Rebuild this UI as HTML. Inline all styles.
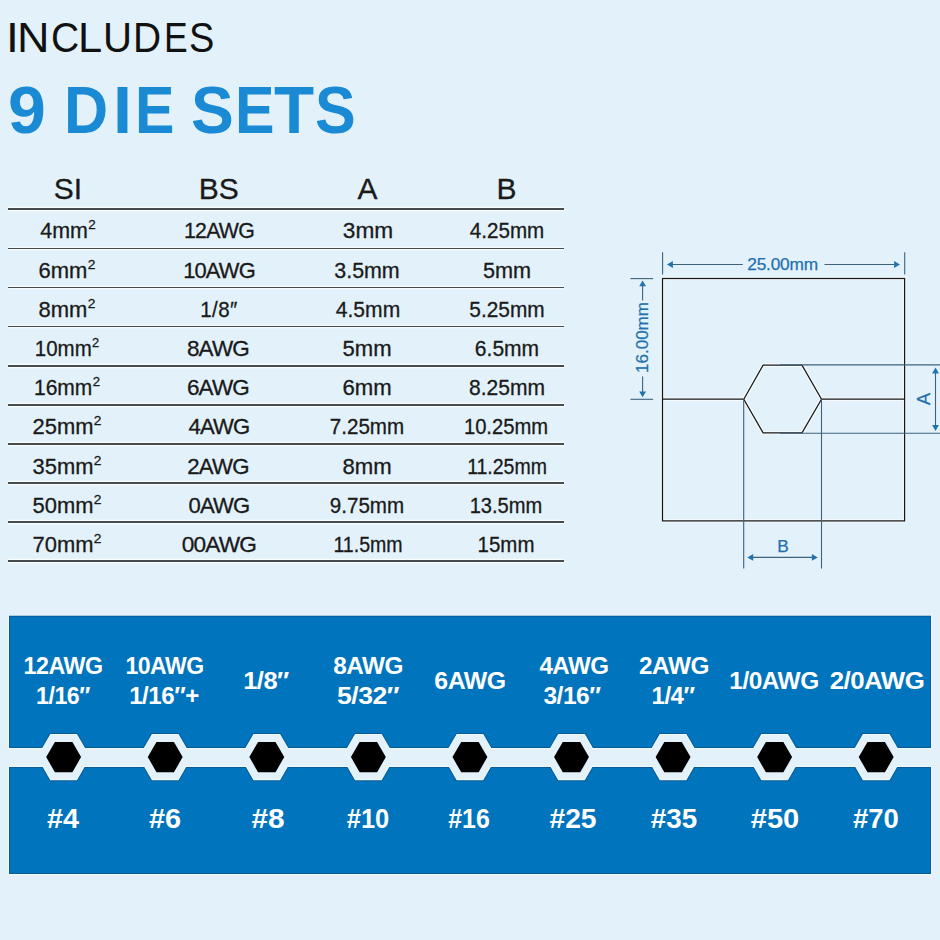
<!DOCTYPE html>
<html><head><meta charset="utf-8"><style>
html,body{margin:0;padding:0;}
body{width:940px;height:940px;position:relative;overflow:hidden;background:#E3F2FA;font-family:"Liberation Sans", sans-serif;}
</style></head><body>
<svg width="940" height="940" viewBox="0 0 940 940" style="position:absolute;left:0;top:0"><rect x="8" y="614.7" width="924" height="260.3" fill="#EDFBFF"/><rect x="9" y="615.7" width="922" height="258.3" fill="#0A5A96"/><rect x="10" y="616.7" width="920" height="256.3" fill="#0174BE"/><g stroke="#0A5A96" stroke-width="2" fill="none"><line x1="10" y1="748" x2="930" y2="748"/><line x1="10" y1="767" x2="930" y2="767"/><polygon points="37.05,757.10 50.35,734.06 76.95,734.06 90.25,757.10 76.95,780.14 50.35,780.14"/><polygon points="138.62,757.10 151.92,734.06 178.52,734.06 191.82,757.10 178.52,780.14 151.92,780.14"/><polygon points="240.19,757.10 253.49,734.06 280.09,734.06 293.39,757.10 280.09,780.14 253.49,780.14"/><polygon points="341.76,757.10 355.06,734.06 381.66,734.06 394.96,757.10 381.66,780.14 355.06,780.14"/><polygon points="443.33,757.10 456.63,734.06 483.23,734.06 496.53,757.10 483.23,780.14 456.63,780.14"/><polygon points="544.90,757.10 558.20,734.06 584.80,734.06 598.10,757.10 584.80,780.14 558.20,780.14"/><polygon points="646.47,757.10 659.77,734.06 686.37,734.06 699.67,757.10 686.37,780.14 659.77,780.14"/><polygon points="748.04,757.10 761.34,734.06 787.94,734.06 801.24,757.10 787.94,780.14 761.34,780.14"/><polygon points="849.61,757.10 862.91,734.06 889.51,734.06 902.81,757.10 889.51,780.14 862.91,780.14"/></g><g fill="#EDFBFF"><rect x="8" y="748" width="924" height="19"/><polygon points="37.05,757.10 50.35,734.06 76.95,734.06 90.25,757.10 76.95,780.14 50.35,780.14"/><polygon points="138.62,757.10 151.92,734.06 178.52,734.06 191.82,757.10 178.52,780.14 151.92,780.14"/><polygon points="240.19,757.10 253.49,734.06 280.09,734.06 293.39,757.10 280.09,780.14 253.49,780.14"/><polygon points="341.76,757.10 355.06,734.06 381.66,734.06 394.96,757.10 381.66,780.14 355.06,780.14"/><polygon points="443.33,757.10 456.63,734.06 483.23,734.06 496.53,757.10 483.23,780.14 456.63,780.14"/><polygon points="544.90,757.10 558.20,734.06 584.80,734.06 598.10,757.10 584.80,780.14 558.20,780.14"/><polygon points="646.47,757.10 659.77,734.06 686.37,734.06 699.67,757.10 686.37,780.14 659.77,780.14"/><polygon points="748.04,757.10 761.34,734.06 787.94,734.06 801.24,757.10 787.94,780.14 761.34,780.14"/><polygon points="849.61,757.10 862.91,734.06 889.51,734.06 902.81,757.10 889.51,780.14 862.91,780.14"/></g><g fill="#E3F2FA"><rect x="0" y="749" width="940" height="17"/><polygon points="38.20,757.10 50.92,735.06 76.38,735.06 89.10,757.10 76.38,779.14 50.92,779.14"/><polygon points="139.77,757.10 152.50,735.06 177.94,735.06 190.67,757.10 177.94,779.14 152.50,779.14"/><polygon points="241.34,757.10 254.06,735.06 279.51,735.06 292.24,757.10 279.51,779.14 254.06,779.14"/><polygon points="342.91,757.10 355.63,735.06 381.08,735.06 393.81,757.10 381.08,779.14 355.63,779.14"/><polygon points="444.48,757.10 457.20,735.06 482.65,735.06 495.38,757.10 482.65,779.14 457.20,779.14"/><polygon points="546.05,757.10 558.77,735.06 584.23,735.06 596.95,757.10 584.23,779.14 558.77,779.14"/><polygon points="647.62,757.10 660.34,735.06 685.79,735.06 698.52,757.10 685.79,779.14 660.34,779.14"/><polygon points="749.19,757.10 761.91,735.06 787.37,735.06 800.09,757.10 787.37,779.14 761.91,779.14"/><polygon points="850.76,757.10 863.48,735.06 888.93,735.06 901.66,757.10 888.93,779.14 863.48,779.14"/></g><g fill="#000"><polygon points="46.20,757.10 54.92,741.99 72.38,741.99 81.10,757.10 72.38,772.21 54.92,772.21"/><polygon points="147.77,757.10 156.50,741.99 173.94,741.99 182.67,757.10 173.94,772.21 156.50,772.21"/><polygon points="249.34,757.10 258.06,741.99 275.51,741.99 284.24,757.10 275.51,772.21 258.06,772.21"/><polygon points="350.91,757.10 359.63,741.99 377.08,741.99 385.81,757.10 377.08,772.21 359.63,772.21"/><polygon points="452.48,757.10 461.20,741.99 478.65,741.99 487.38,757.10 478.65,772.21 461.20,772.21"/><polygon points="554.05,757.10 562.77,741.99 580.23,741.99 588.95,757.10 580.23,772.21 562.77,772.21"/><polygon points="655.62,757.10 664.34,741.99 681.79,741.99 690.52,757.10 681.79,772.21 664.34,772.21"/><polygon points="757.19,757.10 765.91,741.99 783.37,741.99 792.09,757.10 783.37,772.21 765.91,772.21"/><polygon points="858.76,757.10 867.48,741.99 884.93,741.99 893.66,757.10 884.93,772.21 867.48,772.21"/></g><g fill="none" stroke="#ffffff" stroke-opacity="0.7" stroke-width="3.4"><rect x="662.5" y="278.5" width="242.1" height="242.4"/><line x1="662.5" y1="399.2" x2="743.8" y2="399.2"/><line x1="821.5" y1="399.2" x2="904.6" y2="399.2"/><polygon points="743.8,399.2 763.1,365.2 802,365.2 821.5,399.2 802,432.9 763.1,432.9"/></g><g fill="none" stroke="#161616" stroke-width="1.25"><rect x="662.5" y="278.5" width="242.1" height="242.4"/><line x1="662.5" y1="399.2" x2="743.8" y2="399.2"/><line x1="821.5" y1="399.2" x2="904.6" y2="399.2"/><polygon points="743.8,399.2 763.1,365.2 802,365.2 821.5,399.2 802,432.9 763.1,432.9"/></g><g fill="none" stroke="#3C627C" stroke-width="1.1"><line x1="780" y1="364.9" x2="940" y2="364.9"/><line x1="780" y1="433.2" x2="940" y2="433.2"/><line x1="743.7" y1="399" x2="743.7" y2="568.6"/><line x1="821.5" y1="399" x2="821.5" y2="568.6"/><line x1="662.6" y1="252.2" x2="662.6" y2="274.6"/><line x1="904.7" y1="252.2" x2="904.7" y2="274.6"/><line x1="670" y1="264.5" x2="742.8" y2="264.5"/><line x1="824.5" y1="264.5" x2="897" y2="264.5"/><line x1="630.4" y1="278.6" x2="653.1" y2="278.6"/><line x1="630.4" y1="399.3" x2="653.1" y2="399.3"/><line x1="642.6" y1="283" x2="642.6" y2="300.5"/><line x1="642.6" y1="376.5" x2="642.6" y2="394.5"/><line x1="935.5" y1="370" x2="935.5" y2="428.5"/><line x1="750" y1="557.4" x2="815" y2="557.4"/></g><polygon points="667.00,264.50 672.90,261.10 672.90,267.90" fill="#1F74B0"/><polygon points="900.00,264.50 894.10,267.90 894.10,261.10" fill="#1F74B0"/><polygon points="642.60,280.40 646.00,286.30 639.20,286.30" fill="#1F74B0"/><polygon points="642.60,397.30 639.20,391.40 646.00,391.40" fill="#1F74B0"/><polygon points="935.50,367.60 938.90,373.50 932.10,373.50" fill="#1F74B0"/><polygon points="935.50,430.90 932.10,425.00 938.90,425.00" fill="#1F74B0"/><polygon points="747.30,557.40 753.20,554.00 753.20,560.80" fill="#1F74B0"/><polygon points="817.80,557.40 811.90,560.80 811.90,554.00" fill="#1F74B0"/></svg>
<div style="position:absolute;left:8px;width:556px;top:208.45px;height:1.7px;background:#464b4b;box-shadow:0 -1.2px 0 rgba(255,255,255,0.75),0 1.2px 0 rgba(255,255,255,0.75)"></div><div style="position:absolute;left:8px;width:556px;top:247.56px;height:1.7px;background:#464b4b;box-shadow:0 -1.2px 0 rgba(255,255,255,0.75),0 1.2px 0 rgba(255,255,255,0.75)"></div><div style="position:absolute;left:8px;width:556px;top:286.67px;height:1.7px;background:#464b4b;box-shadow:0 -1.2px 0 rgba(255,255,255,0.75),0 1.2px 0 rgba(255,255,255,0.75)"></div><div style="position:absolute;left:8px;width:556px;top:325.78px;height:1.7px;background:#464b4b;box-shadow:0 -1.2px 0 rgba(255,255,255,0.75),0 1.2px 0 rgba(255,255,255,0.75)"></div><div style="position:absolute;left:8px;width:556px;top:364.89px;height:1.7px;background:#464b4b;box-shadow:0 -1.2px 0 rgba(255,255,255,0.75),0 1.2px 0 rgba(255,255,255,0.75)"></div><div style="position:absolute;left:8px;width:556px;top:404.00px;height:1.7px;background:#464b4b;box-shadow:0 -1.2px 0 rgba(255,255,255,0.75),0 1.2px 0 rgba(255,255,255,0.75)"></div><div style="position:absolute;left:8px;width:556px;top:443.11px;height:1.7px;background:#464b4b;box-shadow:0 -1.2px 0 rgba(255,255,255,0.75),0 1.2px 0 rgba(255,255,255,0.75)"></div><div style="position:absolute;left:8px;width:556px;top:482.22px;height:1.7px;background:#464b4b;box-shadow:0 -1.2px 0 rgba(255,255,255,0.75),0 1.2px 0 rgba(255,255,255,0.75)"></div><div style="position:absolute;left:8px;width:556px;top:521.33px;height:1.7px;background:#464b4b;box-shadow:0 -1.2px 0 rgba(255,255,255,0.75),0 1.2px 0 rgba(255,255,255,0.75)"></div><div style="position:absolute;left:8px;width:556px;top:560.44px;height:1.7px;background:#464b4b;box-shadow:0 -1.2px 0 rgba(255,255,255,0.75),0 1.2px 0 rgba(255,255,255,0.75)"></div>
<div style="position:absolute;left:5.50px;top:16px;font-size:43px;font-weight:400;color:#111;line-height:1;white-space:pre;transform:scaleX(1.0750);transform-origin:0 0;">I</div><div style="position:absolute;left:16.62px;top:16px;font-size:43px;font-weight:400;color:#111;line-height:1;white-space:pre;transform:scaleX(1.0458);transform-origin:0 0;">N</div><div style="position:absolute;left:50.79px;top:16px;font-size:43px;font-weight:400;color:#111;line-height:1;white-space:pre;transform:scaleX(0.9074);transform-origin:0 0;">C</div><div style="position:absolute;left:77.96px;top:16px;font-size:43px;font-weight:400;color:#111;line-height:1;white-space:pre;transform:scaleX(1.0105);transform-origin:0 0;">L</div><div style="position:absolute;left:102.99px;top:16px;font-size:43px;font-weight:400;color:#111;line-height:1;white-space:pre;transform:scaleX(0.9360);transform-origin:0 0;">U</div><div style="position:absolute;left:132.58px;top:16px;font-size:43px;font-weight:400;color:#111;line-height:1;white-space:pre;transform:scaleX(0.9040);transform-origin:0 0;">D</div><div style="position:absolute;left:164.10px;top:16px;font-size:43px;font-weight:400;color:#111;line-height:1;white-space:pre;transform:scaleX(0.8261);transform-origin:0 0;">E</div><div style="position:absolute;left:188.83px;top:16px;font-size:43px;font-weight:400;color:#111;line-height:1;white-space:pre;transform:scaleX(0.8840);transform-origin:0 0;">S</div><div style="position:absolute;left:8.47px;top:76px;font-size:67px;font-weight:700;color:#1A8AD4;line-height:1;white-space:pre;transform:scaleX(1.0152);transform-origin:0 0;">9</div><div style="position:absolute;left:64.35px;top:76px;font-size:67px;font-weight:700;color:#1A8AD4;line-height:1;white-space:pre;transform:scaleX(0.9119);transform-origin:0 0;">D</div><div style="position:absolute;left:113.12px;top:76px;font-size:67px;font-weight:700;color:#1A8AD4;line-height:1;white-space:pre;transform:scaleX(1.0200);transform-origin:0 0;">I</div><div style="position:absolute;left:135.37px;top:76px;font-size:67px;font-weight:700;color:#1A8AD4;line-height:1;white-space:pre;transform:scaleX(0.8816);transform-origin:0 0;">E</div><div style="position:absolute;left:190.59px;top:76px;font-size:67px;font-weight:700;color:#1A8AD4;line-height:1;white-space:pre;transform:scaleX(0.9575);transform-origin:0 0;">S</div><div style="position:absolute;left:234.86px;top:76px;font-size:67px;font-weight:700;color:#1A8AD4;line-height:1;white-space:pre;transform:scaleX(0.8842);transform-origin:0 0;">E</div><div style="position:absolute;left:273.82px;top:76px;font-size:67px;font-weight:700;color:#1A8AD4;line-height:1;white-space:pre;transform:scaleX(0.9795);transform-origin:0 0;">T</div><div style="position:absolute;left:315.18px;top:76px;font-size:67px;font-weight:700;color:#1A8AD4;line-height:1;white-space:pre;transform:scaleX(0.9100);transform-origin:0 0;">S</div><div style="position:absolute;top:174.00px;font-size:30px;font-weight:400;color:#1a1a1a;line-height:1;white-space:nowrap;letter-spacing:0px;-webkit-text-stroke:0.3px #1a1a1a;left:-82.20px;width:300px;text-align:center;">SI</div><div style="position:absolute;top:174.00px;font-size:30px;font-weight:400;color:#1a1a1a;line-height:1;white-space:nowrap;letter-spacing:0px;-webkit-text-stroke:0.3px #1a1a1a;left:68.80px;width:300px;text-align:center;">BS</div><div style="position:absolute;top:174.00px;font-size:30px;font-weight:400;color:#1a1a1a;line-height:1;white-space:nowrap;letter-spacing:0px;-webkit-text-stroke:0.3px #1a1a1a;left:217.40px;width:300px;text-align:center;">A</div><div style="position:absolute;top:174.00px;font-size:30px;font-weight:400;color:#1a1a1a;line-height:1;white-space:nowrap;letter-spacing:0px;-webkit-text-stroke:0.3px #1a1a1a;left:356.40px;width:300px;text-align:center;">B</div><div style="position:absolute;top:221.00px;font-size:21.5px;font-weight:400;color:#1a1a1a;line-height:1;white-space:nowrap;letter-spacing:0px;-webkit-text-stroke:0.3px #1a1a1a;transform:scaleX(0.9964);left:-82.50px;width:300px;text-align:center;">4mm<span style="font-size:13.5px;position:relative;top:-9px;margin-left:0.3px">2</span></div><div style="position:absolute;top:221.00px;font-size:21.5px;font-weight:400;color:#1a1a1a;line-height:1;white-space:nowrap;letter-spacing:-0.8px;-webkit-text-stroke:0.3px #1a1a1a;transform:scaleX(0.9926);left:69.15px;width:300px;text-align:center;">12AWG</div><div style="position:absolute;top:221.00px;font-size:21.5px;font-weight:400;color:#1a1a1a;line-height:1;white-space:nowrap;letter-spacing:0px;-webkit-text-stroke:0.3px #1a1a1a;transform:scaleX(1.0533);left:217.81px;width:300px;text-align:center;">3mm</div><div style="position:absolute;top:221.00px;font-size:21.5px;font-weight:400;color:#1a1a1a;line-height:1;white-space:nowrap;letter-spacing:0px;-webkit-text-stroke:0.3px #1a1a1a;transform:scaleX(0.9592);left:357.00px;width:300px;text-align:center;">4.25mm</div><div style="position:absolute;top:261.00px;font-size:21.5px;font-weight:400;color:#1a1a1a;line-height:1;white-space:nowrap;letter-spacing:0px;-webkit-text-stroke:0.3px #1a1a1a;transform:scaleX(1.0222);left:-83.01px;width:300px;text-align:center;">6mm<span style="font-size:13.5px;position:relative;top:-9px;margin-left:0.3px">2</span></div><div style="position:absolute;top:261.00px;font-size:21.5px;font-weight:400;color:#1a1a1a;line-height:1;white-space:nowrap;letter-spacing:-0.8px;-webkit-text-stroke:0.3px #1a1a1a;transform:scaleX(1.0176);left:68.59px;width:300px;text-align:center;">10AWG</div><div style="position:absolute;top:261.00px;font-size:21.5px;font-weight:400;color:#1a1a1a;line-height:1;white-space:nowrap;letter-spacing:0px;-webkit-text-stroke:0.3px #1a1a1a;transform:scaleX(0.9952);left:217.45px;width:300px;text-align:center;">3.5mm</div><div style="position:absolute;top:261.00px;font-size:21.5px;font-weight:400;color:#1a1a1a;line-height:1;white-space:nowrap;letter-spacing:0px;-webkit-text-stroke:0.3px #1a1a1a;transform:scaleX(1.0065);left:356.75px;width:300px;text-align:center;">5mm</div><div style="position:absolute;top:300.00px;font-size:21.5px;font-weight:400;color:#1a1a1a;line-height:1;white-space:nowrap;letter-spacing:0px;-webkit-text-stroke:0.3px #1a1a1a;transform:scaleX(1.0222);left:-83.01px;width:300px;text-align:center;">8mm<span style="font-size:13.5px;position:relative;top:-9px;margin-left:0.3px">2</span></div><div style="position:absolute;top:300.00px;font-size:21.5px;font-weight:400;color:#1a1a1a;line-height:1;white-space:nowrap;letter-spacing:0.5px;-webkit-text-stroke:0.3px #1a1a1a;transform:scaleX(0.9553);left:68.82px;width:300px;text-align:center;">1/8&#8243;</div><div style="position:absolute;top:300.00px;font-size:21.5px;font-weight:400;color:#1a1a1a;line-height:1;white-space:nowrap;letter-spacing:0px;-webkit-text-stroke:0.3px #1a1a1a;transform:scaleX(0.9797);left:217.94px;width:300px;text-align:center;">4.5mm</div><div style="position:absolute;top:300.00px;font-size:21.5px;font-weight:400;color:#1a1a1a;line-height:1;white-space:nowrap;letter-spacing:0px;-webkit-text-stroke:0.3px #1a1a1a;transform:scaleX(0.9697);left:356.75px;width:300px;text-align:center;">5.25mm</div><div style="position:absolute;top:339.00px;font-size:21.5px;font-weight:400;color:#1a1a1a;line-height:1;white-space:nowrap;letter-spacing:0px;-webkit-text-stroke:0.3px #1a1a1a;transform:scaleX(0.9530);left:-83.03px;width:300px;text-align:center;">10mm<span style="font-size:13.5px;position:relative;top:-9px;margin-left:0.3px">2</span></div><div style="position:absolute;top:339.00px;font-size:21.5px;font-weight:400;color:#1a1a1a;line-height:1;white-space:nowrap;letter-spacing:-0.8px;-webkit-text-stroke:0.3px #1a1a1a;transform:scaleX(1.0466);left:68.13px;width:300px;text-align:center;">8AWG</div><div style="position:absolute;top:339.00px;font-size:21.5px;font-weight:400;color:#1a1a1a;line-height:1;white-space:nowrap;letter-spacing:0px;-webkit-text-stroke:0.3px #1a1a1a;transform:scaleX(1.0267);left:217.25px;width:300px;text-align:center;">5mm</div><div style="position:absolute;top:339.00px;font-size:21.5px;font-weight:400;color:#1a1a1a;line-height:1;white-space:nowrap;letter-spacing:0px;-webkit-text-stroke:0.3px #1a1a1a;transform:scaleX(0.9781);left:356.60px;width:300px;text-align:center;">6.5mm</div><div style="position:absolute;top:378.00px;font-size:21.5px;font-weight:400;color:#1a1a1a;line-height:1;white-space:nowrap;letter-spacing:0px;-webkit-text-stroke:0.3px #1a1a1a;transform:scaleX(0.9773);left:-83.14px;width:300px;text-align:center;">16mm<span style="font-size:13.5px;position:relative;top:-9px;margin-left:0.3px">2</span></div><div style="position:absolute;top:378.00px;font-size:21.5px;font-weight:400;color:#1a1a1a;line-height:1;white-space:nowrap;letter-spacing:-0.8px;-webkit-text-stroke:0.3px #1a1a1a;transform:scaleX(1.0466);left:68.13px;width:300px;text-align:center;">6AWG</div><div style="position:absolute;top:378.00px;font-size:21.5px;font-weight:400;color:#1a1a1a;line-height:1;white-space:nowrap;letter-spacing:0px;-webkit-text-stroke:0.3px #1a1a1a;transform:scaleX(1.0289);left:217.05px;width:300px;text-align:center;">6mm</div><div style="position:absolute;top:378.00px;font-size:21.5px;font-weight:400;color:#1a1a1a;line-height:1;white-space:nowrap;letter-spacing:0px;-webkit-text-stroke:0.3px #1a1a1a;transform:scaleX(0.9789);left:357.10px;width:300px;text-align:center;">8.25mm</div><div style="position:absolute;top:417.00px;font-size:21.5px;font-weight:400;color:#1a1a1a;line-height:1;white-space:nowrap;letter-spacing:0px;-webkit-text-stroke:0.3px #1a1a1a;transform:scaleX(1.0197);left:-82.66px;width:300px;text-align:center;">25mm<span style="font-size:13.5px;position:relative;top:-9px;margin-left:0.3px">2</span></div><div style="position:absolute;top:417.00px;font-size:21.5px;font-weight:400;color:#1a1a1a;line-height:1;white-space:nowrap;letter-spacing:-0.8px;-webkit-text-stroke:0.3px #1a1a1a;transform:scaleX(1.0288);left:68.65px;width:300px;text-align:center;">4AWG</div><div style="position:absolute;top:417.00px;font-size:21.5px;font-weight:400;color:#1a1a1a;line-height:1;white-space:nowrap;letter-spacing:0px;-webkit-text-stroke:0.3px #1a1a1a;transform:scaleX(0.9573);left:217.10px;width:300px;text-align:center;">7.25mm</div><div style="position:absolute;top:417.00px;font-size:21.5px;font-weight:400;color:#1a1a1a;line-height:1;white-space:nowrap;letter-spacing:0px;-webkit-text-stroke:0.3px #1a1a1a;transform:scaleX(0.9391);left:356.18px;width:300px;text-align:center;">10.25mm</div><div style="position:absolute;top:457.00px;font-size:21.5px;font-weight:400;color:#1a1a1a;line-height:1;white-space:nowrap;letter-spacing:0px;-webkit-text-stroke:0.3px #1a1a1a;transform:scaleX(1.0197);left:-82.66px;width:300px;text-align:center;">35mm<span style="font-size:13.5px;position:relative;top:-9px;margin-left:0.3px">2</span></div><div style="position:absolute;top:457.00px;font-size:21.5px;font-weight:400;color:#1a1a1a;line-height:1;white-space:nowrap;letter-spacing:-0.8px;-webkit-text-stroke:0.3px #1a1a1a;transform:scaleX(1.0345);left:68.48px;width:300px;text-align:center;">2AWG</div><div style="position:absolute;top:457.00px;font-size:21.5px;font-weight:400;color:#1a1a1a;line-height:1;white-space:nowrap;letter-spacing:0px;-webkit-text-stroke:0.3px #1a1a1a;transform:scaleX(1.0289);left:217.05px;width:300px;text-align:center;">8mm</div><div style="position:absolute;top:457.00px;font-size:21.5px;font-weight:400;color:#1a1a1a;line-height:1;white-space:nowrap;letter-spacing:0px;-webkit-text-stroke:0.3px #1a1a1a;transform:scaleX(0.9058);left:356.65px;width:300px;text-align:center;">11.25mm</div><div style="position:absolute;top:496.00px;font-size:21.5px;font-weight:400;color:#1a1a1a;line-height:1;white-space:nowrap;letter-spacing:0px;-webkit-text-stroke:0.3px #1a1a1a;transform:scaleX(1.0197);left:-82.66px;width:300px;text-align:center;">50mm<span style="font-size:13.5px;position:relative;top:-9px;margin-left:0.3px">2</span></div><div style="position:absolute;top:496.00px;font-size:21.5px;font-weight:400;color:#1a1a1a;line-height:1;white-space:nowrap;letter-spacing:-0.8px;-webkit-text-stroke:0.3px #1a1a1a;transform:scaleX(1.0288);left:68.65px;width:300px;text-align:center;">0AWG</div><div style="position:absolute;top:496.00px;font-size:21.5px;font-weight:400;color:#1a1a1a;line-height:1;white-space:nowrap;letter-spacing:0px;-webkit-text-stroke:0.3px #1a1a1a;transform:scaleX(0.9573);left:217.10px;width:300px;text-align:center;">9.75mm</div><div style="position:absolute;top:496.00px;font-size:21.5px;font-weight:400;color:#1a1a1a;line-height:1;white-space:nowrap;letter-spacing:0px;-webkit-text-stroke:0.3px #1a1a1a;transform:scaleX(0.9360);left:356.13px;width:300px;text-align:center;">13.5mm</div><div style="position:absolute;top:535.00px;font-size:21.5px;font-weight:400;color:#1a1a1a;line-height:1;white-space:nowrap;letter-spacing:0px;-webkit-text-stroke:0.3px #1a1a1a;transform:scaleX(1.0197);left:-82.66px;width:300px;text-align:center;">70mm<span style="font-size:13.5px;position:relative;top:-9px;margin-left:0.3px">2</span></div><div style="position:absolute;top:535.00px;font-size:21.5px;font-weight:400;color:#1a1a1a;line-height:1;white-space:nowrap;letter-spacing:-0.8px;-webkit-text-stroke:0.3px #1a1a1a;transform:scaleX(1.0536);left:68.95px;width:300px;text-align:center;">00AWG</div><div style="position:absolute;top:535.00px;font-size:21.5px;font-weight:400;color:#1a1a1a;line-height:1;white-space:nowrap;letter-spacing:0px;-webkit-text-stroke:0.3px #1a1a1a;transform:scaleX(0.9096);left:217.54px;width:300px;text-align:center;">11.5mm</div><div style="position:absolute;top:535.00px;font-size:21.5px;font-weight:400;color:#1a1a1a;line-height:1;white-space:nowrap;letter-spacing:0px;-webkit-text-stroke:0.3px #1a1a1a;transform:scaleX(0.9526);left:356.12px;width:300px;text-align:center;">15mm</div><div style="position:absolute;top:256.00px;font-size:17.3px;font-weight:400;color:#2270AE;line-height:1;white-space:nowrap;letter-spacing:-0.2px;-webkit-text-stroke:0.25px #2270AE;left:632.60px;width:300px;text-align:center;">25.00mm</div><div style="position:absolute;top:538.00px;font-size:17.3px;font-weight:400;color:#2270AE;line-height:1;white-space:nowrap;letter-spacing:0px;-webkit-text-stroke:0.25px #2270AE;left:633.00px;width:300px;text-align:center;">B</div><div style="position:absolute;left:541.60px;top:329.30px;width:200px;height:17px;line-height:17px;text-align:center;font-size:17px;color:#2270AE;transform:rotate(-90deg);white-space:nowrap;-webkit-text-stroke:0.25px #2270AE">16.00mm</div><div style="position:absolute;left:823.70px;top:389.70px;width:200px;height:18px;line-height:18px;text-align:center;font-size:18px;color:#2270AE;transform:rotate(-90deg);white-space:nowrap;-webkit-text-stroke:0.25px #2270AE">A</div><div style="position:absolute;top:655.00px;font-size:23.0px;font-weight:700;color:#fff;line-height:1;white-space:nowrap;letter-spacing:-0.45px;transform:scaleX(1.0105);left:-86.75px;width:300px;text-align:center;">12AWG</div><div style="position:absolute;top:685.00px;font-size:23.0px;font-weight:700;color:#fff;line-height:1;white-space:nowrap;letter-spacing:-0.45px;transform:scaleX(1.0078);left:-87.26px;width:300px;text-align:center;">1/16&#8243;</div><div style="position:absolute;top:806.00px;font-size:27.0px;font-weight:700;color:#fff;line-height:1;white-space:nowrap;letter-spacing:0px;transform:scaleX(1.0655);left:-87.36px;width:300px;text-align:center;">#4</div><div style="position:absolute;top:655.00px;font-size:23.0px;font-weight:700;color:#fff;line-height:1;white-space:nowrap;letter-spacing:-0.45px;transform:scaleX(1.0000);left:14.52px;width:300px;text-align:center;">10AWG</div><div style="position:absolute;top:685.00px;font-size:23.0px;font-weight:700;color:#fff;line-height:1;white-space:nowrap;letter-spacing:-0.45px;transform:scaleX(1.0469);left:14.48px;width:300px;text-align:center;">1/16&#8243;+</div><div style="position:absolute;top:806.00px;font-size:27.0px;font-weight:700;color:#fff;line-height:1;white-space:nowrap;letter-spacing:0px;transform:scaleX(1.0690);left:15.40px;width:300px;text-align:center;">#6</div><div style="position:absolute;top:670.00px;font-size:23.0px;font-weight:700;color:#fff;line-height:1;white-space:nowrap;letter-spacing:-0.45px;transform:scaleX(1.1051);left:115.77px;width:300px;text-align:center;">1/8&#8243;</div><div style="position:absolute;top:806.00px;font-size:27.0px;font-weight:700;color:#fff;line-height:1;white-space:nowrap;letter-spacing:0px;transform:scaleX(1.1036);left:117.62px;width:300px;text-align:center;">#8</div><div style="position:absolute;top:655.00px;font-size:23.0px;font-weight:700;color:#fff;line-height:1;white-space:nowrap;letter-spacing:-0.45px;transform:scaleX(1.0578);left:218.17px;width:300px;text-align:center;">8AWG</div><div style="position:absolute;top:685.00px;font-size:23.0px;font-weight:700;color:#fff;line-height:1;white-space:nowrap;letter-spacing:-0.45px;transform:scaleX(1.1596);left:217.81px;width:300px;text-align:center;">5/32&#8243;</div><div style="position:absolute;top:806.00px;font-size:27.0px;font-weight:700;color:#fff;line-height:1;white-space:nowrap;letter-spacing:0px;transform:scaleX(0.9419);left:218.22px;width:300px;text-align:center;">#10</div><div style="position:absolute;top:670.00px;font-size:23.0px;font-weight:700;color:#fff;line-height:1;white-space:nowrap;letter-spacing:-0.45px;transform:scaleX(1.0812);left:319.72px;width:300px;text-align:center;">6AWG</div><div style="position:absolute;top:806.00px;font-size:27.0px;font-weight:700;color:#fff;line-height:1;white-space:nowrap;letter-spacing:0px;transform:scaleX(0.9205);left:319.49px;width:300px;text-align:center;">#16</div><div style="position:absolute;top:655.00px;font-size:23.0px;font-weight:700;color:#fff;line-height:1;white-space:nowrap;letter-spacing:-0.45px;transform:scaleX(1.0492);left:423.60px;width:300px;text-align:center;">4AWG</div><div style="position:absolute;top:685.00px;font-size:23.0px;font-weight:700;color:#fff;line-height:1;white-space:nowrap;letter-spacing:-0.45px;transform:scaleX(1.0654);left:422.27px;width:300px;text-align:center;">3/16&#8243;</div><div style="position:absolute;top:806.00px;font-size:27.0px;font-weight:700;color:#fff;line-height:1;white-space:nowrap;letter-spacing:0px;transform:scaleX(1.0455);left:422.88px;width:300px;text-align:center;">#25</div><div style="position:absolute;top:655.00px;font-size:23.0px;font-weight:700;color:#fff;line-height:1;white-space:nowrap;letter-spacing:-0.45px;transform:scaleX(1.0609);left:523.72px;width:300px;text-align:center;">2AWG</div><div style="position:absolute;top:685.00px;font-size:23.0px;font-weight:700;color:#fff;line-height:1;white-space:nowrap;letter-spacing:-0.45px;transform:scaleX(1.0425);left:522.98px;width:300px;text-align:center;">1/4&#8243;</div><div style="position:absolute;top:806.00px;font-size:27.0px;font-weight:700;color:#fff;line-height:1;white-space:nowrap;letter-spacing:0px;transform:scaleX(1.0295);left:524.02px;width:300px;text-align:center;">#35</div><div style="position:absolute;top:670.00px;font-size:23.0px;font-weight:700;color:#fff;line-height:1;white-space:nowrap;letter-spacing:-0.45px;transform:scaleX(1.0622);left:624.47px;width:300px;text-align:center;">1/0AWG</div><div style="position:absolute;top:806.00px;font-size:27.0px;font-weight:700;color:#fff;line-height:1;white-space:nowrap;letter-spacing:0px;transform:scaleX(1.0767);left:624.80px;width:300px;text-align:center;">#50</div><div style="position:absolute;top:670.00px;font-size:23.0px;font-weight:700;color:#fff;line-height:1;white-space:nowrap;letter-spacing:-0.45px;transform:scaleX(1.1232);left:726.79px;width:300px;text-align:center;">2/0AWG</div><div style="position:absolute;top:806.00px;font-size:27.0px;font-weight:700;color:#fff;line-height:1;white-space:nowrap;letter-spacing:0px;transform:scaleX(1.0163);left:726.16px;width:300px;text-align:center;">#70</div>
</body></html>
